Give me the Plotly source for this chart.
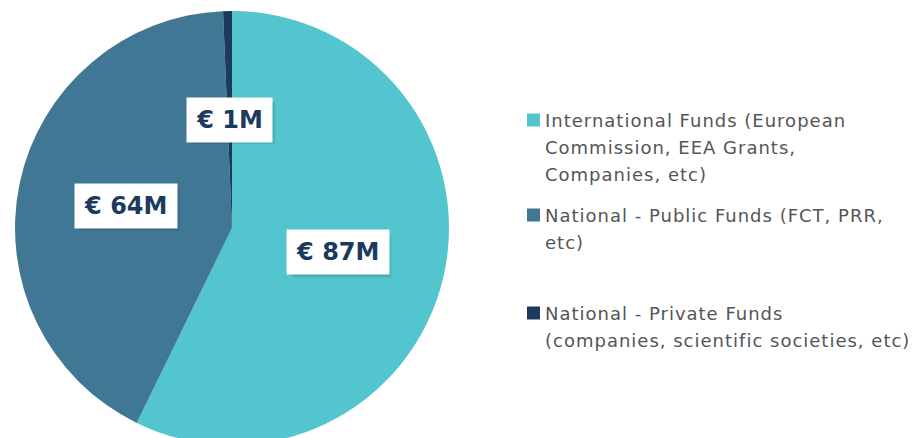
import math
import plotly.graph_objects as go

# ---- data ----
categories = [
    "International Funds (European Commission, EEA Grants, Companies, etc)",
    "National - Public Funds (FCT, PRR, etc)",
    "National - Private Funds (companies, scientific societies, etc)",
]
legend_lines = [
    ["International Funds (European", "Commission, EEA Grants,", "Companies, etc)"],
    ["National - Public Funds (FCT, PRR,", "etc)"],
    ["National - Private Funds", "(companies, scientific societies, etc)"],
]
values = [87, 64, 1]
value_labels = ["€ 87M", "€ 64M", "€ 1M"]
colors = ["#53C5CF", "#3F7794", "#1C3A5E"]

# ---- layout geometry (page pixels) ----
W, H = 921, 438
OFF = 8  # page body margin
pie_x = (15, 449)
pie_y = (11, 445)
legend_first_line_y = [120, 215, 313]
legend_line_gap = 27
legend_text_x = 544
legend_sq = (527, 540, 13)
label_h = 42


def px(x):
    return (x - OFF) / W


def py(y):
    return 1 - (y - OFF) / H


fig = go.Figure(
    go.Pie(
        labels=categories,
        values=values,
        marker=dict(colors=colors, line=dict(width=0)),
        sort=False,
        direction="clockwise",
        rotation=0,
        textinfo="none",
        hoverinfo="label+value",
        domain=dict(x=[px(pie_x[0]), px(pie_x[1])], y=[py(pie_y[1]), py(pie_y[0])]),
        showlegend=False,
    )
)

annotations = []
shapes = []

# value labels placed along each slice's mid-angle
cx = (pie_x[0] + pie_x[1]) / 2
cy = (pie_y[0] + pie_y[1]) / 2
R = (pie_x[1] - pie_x[0]) / 2
total = sum(values)
cum = 0
for v, lab in zip(values, value_labels):
    mid = (cum + v / 2) / total * 2 * math.pi
    cum += v
    lx = cx + 0.5 * R * math.sin(mid)
    ly = cy - 0.5 * R * math.cos(mid)
    w = 17 + 16.5 * len(lab)
    # soft drop shadow behind the label box
    for d, a in ((4, 0.06), (3, 0.08)):
        shapes.append(dict(
            type="rect", xref="paper", yref="paper",
            x0=px(lx - w / 2 + d), x1=px(lx + w / 2 + d),
            y0=py(ly + label_h / 2 + d), y1=py(ly - label_h / 2 + d),
            fillcolor=f"rgba(0,0,0,{a})", line=dict(width=0),
        ))
    annotations.append(dict(
        text=lab, bgcolor="white",
        x=px(lx), y=py(ly), xref="paper", yref="paper",
        xanchor="center", yanchor="middle", showarrow=False,
        width=w, height=label_h, align="center", valign="middle",
        font=dict(family="DejaVu Sans", size=24, color="#1C3A5E", weight="bold"),
    ))

# legend
for lines, y0, col in zip(legend_lines, legend_first_line_y, colors):
    shapes.append(dict(
        type="rect", xref="paper", yref="paper",
        x0=px(legend_sq[0]), x1=px(legend_sq[1]),
        y0=py(y0 + legend_sq[2] / 2), y1=py(y0 - legend_sq[2] / 2),
        fillcolor=col, line=dict(width=0),
    ))
    for i, t in enumerate(lines):
        annotations.append(dict(
            text='<span style="letter-spacing:1px">' + t + "</span>",
            x=px(legend_text_x), y=py(y0 + i * legend_line_gap),
            xref="paper", yref="paper", xanchor="left", yanchor="middle",
            width=375, height=26, align="left", valign="middle", borderpad=0,
            showarrow=False,
            font=dict(family="DejaVu Sans", size=18, color="#555555"),
        ))

fig.update_layout(
    width=W, height=H,
    margin=dict(l=0, r=0, t=0, b=0),
    paper_bgcolor="white", plot_bgcolor="white",
    annotations=annotations, shapes=shapes,
)

fig.write_html("out.html")
